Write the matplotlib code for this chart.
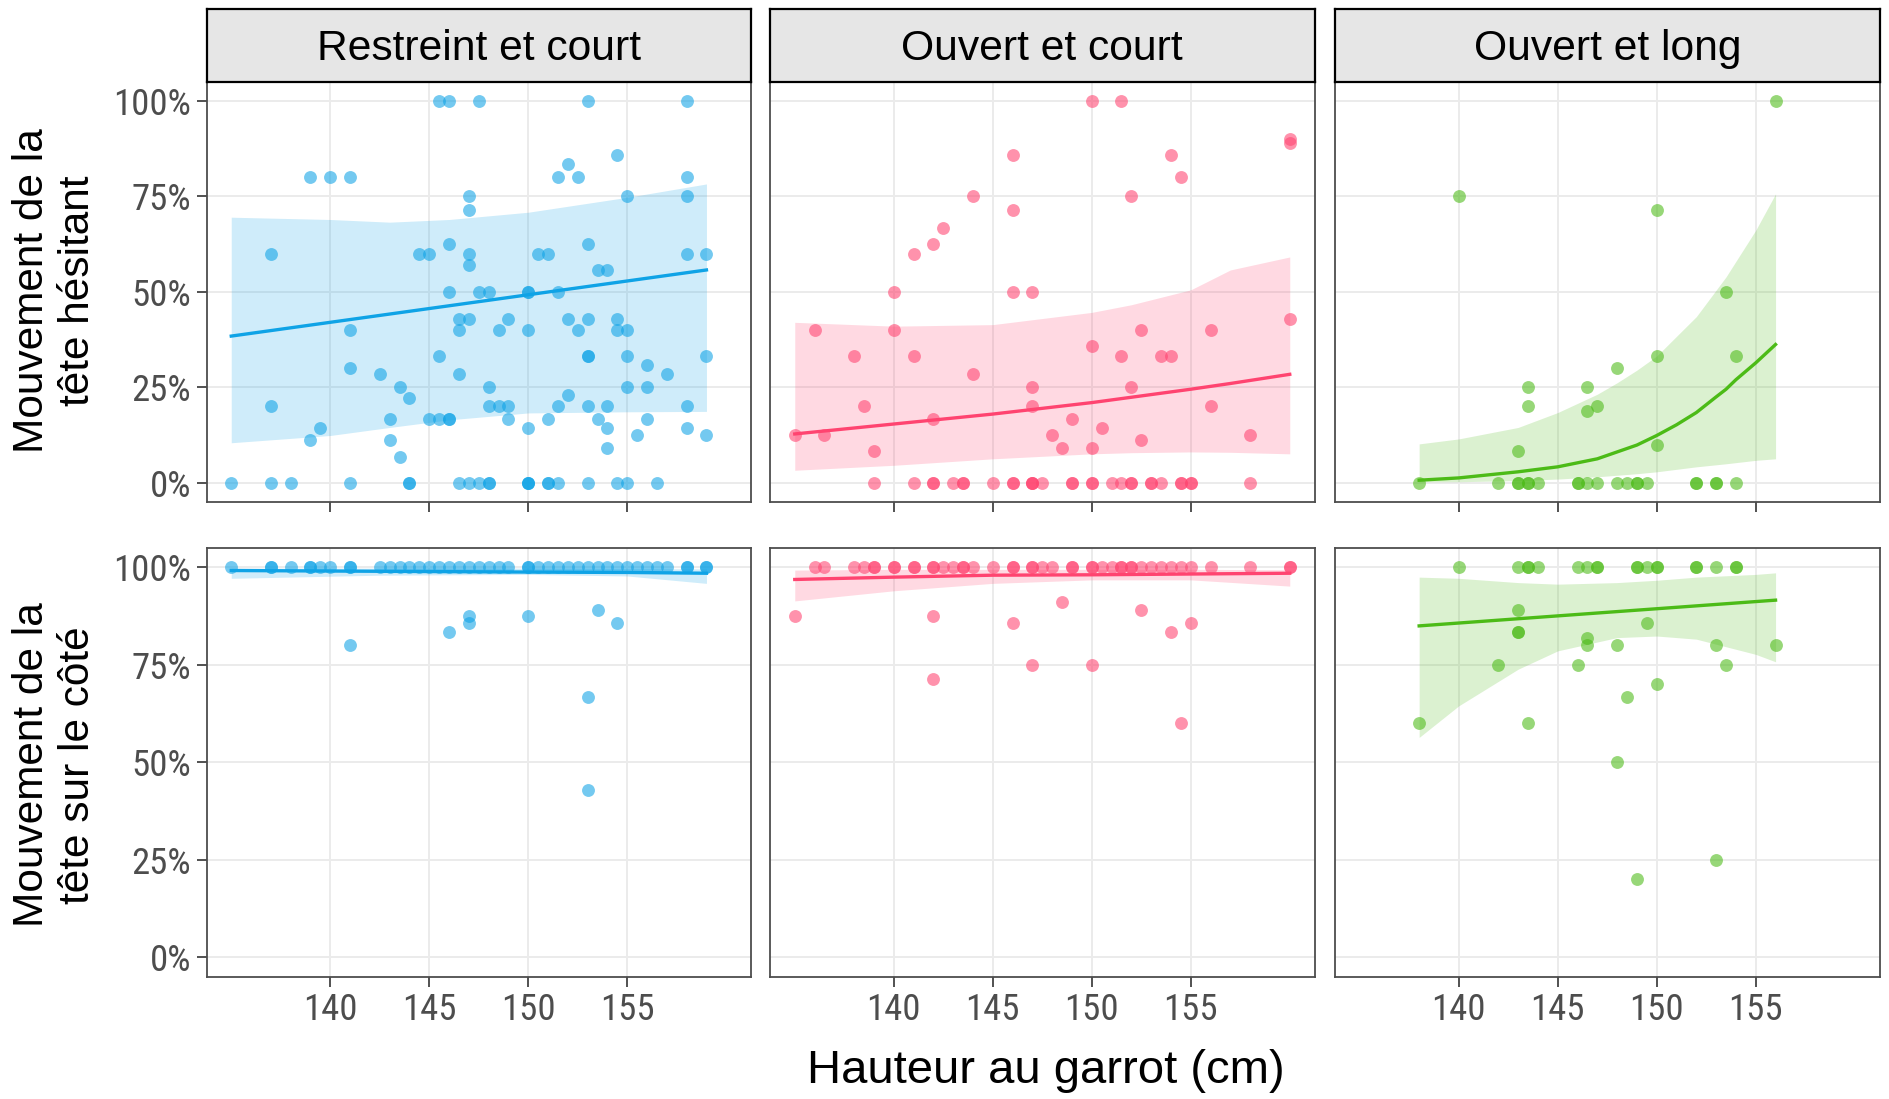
"""
Head movement proportions vs withers height, faceted by enclosure type.
"""

import matplotlib.pyplot as plt

W, H = 1889, 1099

facets = ["Restreint et court", "Ouvert et court", "Ouvert et long"]
colors = ["#0FA3E6", "#FF4470", "#4CBB17"]
row_labels = ["Mouvement de la\ntête hésitant", "Mouvement de la\ntête sur le côté"]
x_label = "Hauteur au garrot (cm)"
x_ticks = [140, 145, 150, 155]
y_ticks = [0, 25, 50, 75, 100]

# points: (proportion %, [heights cm])
rc_hes_pts = [
    (100, [145.5, 146, 147.5, 153, 158]),
    (85.7, [154.5]),
    (83.3, [152]),
    (80, [139, 140, 141, 151.5, 152.5, 158]),
    (75, [147, 155, 158]),
    (71.4, [147]),
    (62.5, [146, 153]),
    (60, [137, 144.5, 145, 147, 150.5, 151, 158, 159]),
    (57.1, [147]),
    (55.6, [153.5, 154]),
    (50, [146, 147.5, 148, 150, 150, 151.5]),
    (42.9, [146.5, 147, 149, 152, 153, 154.5]),
    (40, [141, 146.5, 148.5, 150, 152.5, 154.5, 155]),
    (33.3, [145.5, 153, 153, 155, 159]),
    (30.8, [156]),
    (30, [141]),
    (28.6, [142.5, 146.5, 157]),
    (25, [143.5, 148, 155, 156]),
    (23.1, [152]),
    (22.2, [144]),
    (20, [137, 148, 148.5, 149, 151.5, 153, 154, 158]),
    (16.7, [143, 145, 145.5, 146, 146, 149, 151, 153.5, 156]),
    (14.3, [139.5, 150, 154, 158]),
    (12.5, [155.5, 159]),
    (11.1, [139, 143]),
    (9.1, [154]),
    (6.7, [143.5]),
    (0, [135, 137, 138, 141, 144, 144, 146.5, 147, 147.5, 148, 148, 150, 150,
         150, 151, 151, 151.5, 153, 154.5, 155, 156.5]),
]
oc_hes_pts = [
    (100, [150, 151.5]),
    (90, [160]),
    (88.9, [160]),
    (85.7, [146, 154]),
    (80, [154.5]),
    (75, [144, 152]),
    (71.4, [146]),
    (66.7, [142.5]),
    (62.5, [142]),
    (60, [141]),
    (50, [140, 146, 147]),
    (42.9, [160]),
    (40, [136, 140, 152.5, 156]),
    (35.7, [150]),
    (33.3, [138, 141, 151.5, 153.5, 154]),
    (28.6, [144]),
    (25, [147, 152]),
    (20, [138.5, 147, 156]),
    (16.7, [142, 149]),
    (14.3, [150.5]),
    (12.5, [135, 136.5, 148, 158]),
    (11.1, [152.5]),
    (9.1, [148.5, 150]),
    (8.3, [139]),
    (0, [139, 141, 142, 142, 143, 143.5, 143.5, 145, 146, 146, 147, 147, 147,
         147.5, 149, 149, 150, 150, 151, 151.5, 152, 152, 153, 153, 153.5,
         154.5, 154.5, 155, 155, 158]),
]
ol_hes_pts = [
    (100, [156]),
    (75, [140]),
    (71.4, [150]),
    (50, [153.5]),
    (33.3, [150, 154]),
    (30, [148]),
    (25, [143.5, 146.5]),
    (20, [143.5, 147]),
    (18.8, [146.5]),
    (10, [150]),
    (8.3, [143]),
    (0, [138, 142, 143, 143, 143.5, 143.5, 144, 146, 146, 146.5, 147, 148,
         148.5, 149, 149, 149.5, 152, 152, 153, 153, 154]),
]
rc_cote_pts = [
    (100, [135, 137, 137, 138, 139, 139, 139.5, 140, 141, 141, 142.5, 143,
           143.5, 144, 144.5, 145, 145.5, 146, 146.5, 147, 147.5, 148, 148.5,
           149, 150, 150, 150.5, 151, 151.5, 152, 152.5, 153, 153.5, 154,
           154.5, 155, 155.5, 156, 156.5, 157, 158, 158, 159, 159]),
    (88.9, [153.5]),
    (87.5, [147, 150]),
    (85.7, [147, 154.5]),
    (83.3, [146]),
    (80, [141]),
    (66.7, [153]),
    (42.9, [153]),
]
oc_cote_pts = [
    (100, [136, 136.5, 138, 138.5, 139, 139, 140, 140, 141, 141, 142, 142,
           142.5, 143, 143.5, 143.5, 144, 145, 146, 146, 147, 147, 147.5, 148,
           149, 149, 150, 150, 150.5, 151, 151.5, 151.5, 152, 152, 152.5, 153,
           153.5, 154, 154.5, 155, 156, 158, 160, 160]),
    (90.9, [148.5]),
    (88.9, [152.5]),
    (87.5, [135, 142]),
    (85.7, [146, 155]),
    (83.3, [154]),
    (75, [147, 150]),
    (71.4, [142]),
    (60, [154.5]),
]
ol_cote_pts = [
    (100, [140, 143, 143.5, 143.5, 144, 146, 146.5, 147, 147, 149, 149, 149.5,
           150, 150, 152, 152, 153, 154, 154]),
    (88.9, [143]),
    (85.7, [149.5]),
    (83.3, [143, 143]),
    (81.8, [146.5]),
    (80, [146.5, 148, 153, 156]),
    (75, [142, 146, 153.5]),
    (70, [150]),
    (66.7, [148.5]),
    (60, [138, 143.5]),
    (50, [148]),
    (25, [153]),
    (20, [149]),
]

# smooth fits: line and confidence band
rc_hes_line_x = [135, 159]
rc_hes_line_y = [38.4, 55.7]
rc_hes_band_x = [135, 140, 143, 146, 150, 155, 159]
rc_hes_band_hi = [69.5, 68.9, 68.2, 68.9, 70.8, 74.7, 78.2]
rc_hes_band_lo = [10.5, 12.4, 14.5, 16.5, 18.3, 18.6, 18.7]

oc_hes_line_x = [135, 140, 145, 150, 152, 155, 157, 160]
oc_hes_line_y = [12.8, 15.4, 18.0, 21.0, 22.4, 24.5, 26.0, 28.4]
oc_hes_band_x = oc_hes_line_x
oc_hes_band_hi = [42.0, 41.0, 41.4, 44.6, 46.6, 50.5, 55.7, 59.1]
oc_hes_band_lo = [3.3, 4.6, 6.3, 7.6, 7.9, 8.1, 8.0, 7.6]

ol_hes_line_x = [138, 140, 143, 145, 147, 148, 149, 150, 151, 152, 153,
                 153.5, 154, 155, 156]
ol_hes_line_y = [0.7, 1.3, 2.9, 4.2, 6.3, 8.1, 9.9, 12.4, 15.2, 18.4, 22.5,
                 24.5, 27.0, 31.4, 36.2]
ol_hes_band_x = [138, 140, 143, 145, 147, 148, 149, 150, 152, 153.5, 155, 156]
ol_hes_band_hi = [10.2, 11.5, 14.5, 18.4, 23.2, 26.2, 29.5, 33.2, 43.5, 53.9,
                  66.1, 75.6]
ol_hes_band_lo = [0.3, 0.3, 0.6, 1.0, 1.6, 2.0, 2.4, 2.9, 4.2, 5.0, 5.9, 6.3]

rc_cote_line_x = [135, 142.5, 150, 155, 159]
rc_cote_line_y = [99.1, 98.9, 98.7, 98.6, 98.4]
rc_cote_band_x = rc_cote_line_x
rc_cote_band_hi = [99.7, 99.7, 99.7, 99.6, 99.5]
rc_cote_band_lo = [97.1, 97.9, 98.1, 97.7, 95.8]

oc_cote_line_x = [135, 140, 145, 150, 155, 160]
oc_cote_line_y = [96.8, 97.4, 97.9, 98.0, 98.2, 98.4]
oc_cote_band_x = oc_cote_line_x
oc_cote_band_hi = [99.2, 99.4, 99.4, 99.4, 99.4, 99.3]
oc_cote_band_lo = [91.3, 93.9, 95.8, 96.7, 96.7, 95.1]

ol_cote_line_x = [138, 156]
ol_cote_line_y = [84.9, 91.5]
ol_cote_band_x = [138, 140, 143, 145, 148, 150, 152, 155, 156]
ol_cote_band_hi = [97.4, 97.1, 96.0, 95.6, 96.0, 96.6, 97.4, 98.1, 98.5]
ol_cote_band_lo = [56.3, 64.4, 73.8, 78.5, 81.9, 82.3, 81.5, 77.6, 75.7]

panels = [
    [
        (rc_hes_pts, rc_hes_line_x, rc_hes_line_y, rc_hes_band_x, rc_hes_band_hi, rc_hes_band_lo),
        (oc_hes_pts, oc_hes_line_x, oc_hes_line_y, oc_hes_band_x, oc_hes_band_hi, oc_hes_band_lo),
        (ol_hes_pts, ol_hes_line_x, ol_hes_line_y, ol_hes_band_x, ol_hes_band_hi, ol_hes_band_lo),
    ],
    [
        (rc_cote_pts, rc_cote_line_x, rc_cote_line_y, rc_cote_band_x, rc_cote_band_hi, rc_cote_band_lo),
        (oc_cote_pts, oc_cote_line_x, oc_cote_line_y, oc_cote_band_x, oc_cote_band_hi, oc_cote_band_lo),
        (ol_cote_pts, ol_cote_line_x, ol_cote_line_y, ol_cote_band_x, ol_cote_band_hi, ol_cote_band_lo),
    ],
]

plt.rcParams["font.family"] = ["Roboto Condensed", "Liberation Sans Narrow", "Roboto"]
title_font = ["Liberation Sans", "DejaVu Sans"]

col_left = [206.5, 770, 1335]
col_w = 544.5
row_top = [81.5, 547.5]
row_h = [420.5, 429]
strip_top, strip_h = 9, 72.5


def fig_rect(left, top, width, height):
    return [left / W, 1 - (top + height) / H, width / W, height / H]


fig = plt.figure(figsize=(W / 100, H / 100), dpi=100)

for r in range(2):
    for c in range(3):
        pts, lx, ly, bx, bhi, blo = panels[r][c]
        ax = fig.add_axes(fig_rect(col_left[c], row_top[r], col_w, row_h[r]))
        xs = [x for y, row in pts for x in row]
        ys = [y for y, row in pts for x in row]
        ax.scatter(xs, ys, s=86, color=colors[c], alpha=0.58, linewidths=0, zorder=2)
        ax.fill_between(bx, blo, bhi, color=colors[c], alpha=0.2, linewidth=0, zorder=3)
        ax.plot(lx, ly, color=colors[c], linewidth=2.4, zorder=4)

        ax.set_xlim(133.75, 161.25)
        ax.set_ylim(-5, 105)
        ax.set_xticks(x_ticks)
        ax.set_yticks(y_ticks)
        ax.set_yticklabels([f"{v}%" for v in y_ticks])
        ax.grid(color="#EBEBEB", linewidth=1.4)
        ax.set_axisbelow(True)
        for sp in ax.spines.values():
            sp.set_color("#4D4D4D")
            sp.set_linewidth(1.3)
        ax.tick_params(
            axis="both", length=7, width=1.2, color="#333333",
            labelsize=26.5, labelcolor="#4D4D4D", pad=4,
        )
        if r == 0:
            ax.tick_params(axis="x", labelbottom=False)
        if c > 0:
            ax.tick_params(axis="y", left=False, labelleft=False)

# facet strips
for c in range(3):
    sax = fig.add_axes(fig_rect(col_left[c], strip_top, col_w, strip_h))
    sax.set_facecolor("#E6E6E6")
    sax.set_xticks([])
    sax.set_yticks([])
    for sp in sax.spines.values():
        sp.set_color("black")
        sp.set_linewidth(1.6)
    sax.text(0.5, 0.45, facets[c], transform=sax.transAxes, ha="center",
             va="center", fontsize=30.7, family=title_font)

# row labels
row_center = [291, 765]
for r in range(2):
    fig.text(55 / W, 1 - row_center[r] / H, row_labels[r], rotation=90,
             ha="center", va="center", multialignment="center",
             fontsize=30.5, linespacing=1.2, family=title_font)

fig.text(1046 / W, 1 - 1071 / H, x_label, ha="center", va="center",
         fontsize=34, family=title_font)

fig.savefig("out.png", dpi=100)
